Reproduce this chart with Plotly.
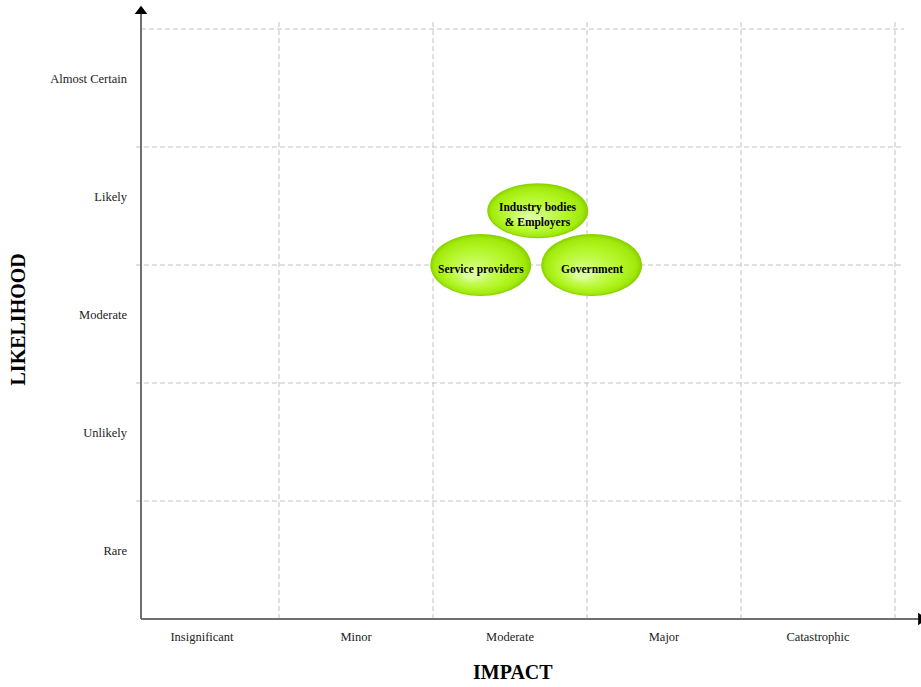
import plotly.graph_objects as go

# Risk matrix categories
impact_levels = ["Insignificant", "Minor", "Moderate", "Major", "Catastrophic"]
likelihood_levels = ["Rare", "Unlikely", "Moderate", "Likely", "Almost Certain"]

# Stakeholder positions on the matrix (impact, likelihood)
stakeholders = ["Industry bodies<br>& Employers", "Service providers", "Government"]
impact_score = [2.68, 2.31, 3.03]
likelihood_score = [3.46, 3.0, 3.0]

# ---- styling -------------------------------------------------------------
SERIF = "Liberation Serif, Times New Roman, serif"
X_RANGE = [0.0325, 5.1688]
Y_RANGE = [-0.0678, 5.2458]
AXIS_X = 0.104            # impact value where the likelihood axis is drawn
AXIS_TOP = 5.13           # top of the likelihood axis line
GRID_LEFT = 0.071
GRID_RIGHT = 5.058
GRID_TOP = 5.068
GRID_COLOR = "#c2c2c2"
AXIS_COLOR = "#6e6e6e"
BUBBLE_HALF_W = 0.328
BUBBLE_HALF_H = [0.233, 0.263, 0.263]

GRADIENT = [(0.0, "#8cd400"), (0.10, "#a2ea0c"), (0.40, "#b4f628"), (0.75, "#c6fb5a"),
            (1.0, "#dcffa0")]


def hex_to_rgb(h):
    h = h.lstrip("#")
    return tuple(int(h[i:i + 2], 16) for i in (0, 2, 4))


def gradient_color(t):
    for (t0, c0), (t1, c1) in zip(GRADIENT[:-1], GRADIENT[1:]):
        if t <= t1:
            f = (t - t0) / (t1 - t0) if t1 > t0 else 0
            a, b = hex_to_rgb(c0), hex_to_rgb(c1)
            return "rgb({},{},{})".format(*[round(a[i] + (b[i] - a[i]) * f) for i in range(3)])
    return GRADIENT[-1][1]


shapes = []

# dashed grid: horizontal lines between likelihood bands
for k in range(1, len(likelihood_levels) + 1):
    shapes.append(dict(type="line", layer="below", xref="x", yref="y",
                       x0=AXIS_X if k == len(likelihood_levels) else GRID_LEFT, x1=GRID_RIGHT,
                       y0=k, y1=k, line=dict(color=GRID_COLOR, width=1, dash="5px,3px")))
# dashed grid: vertical lines between impact bands
for k in range(1, len(impact_levels) + 1):
    shapes.append(dict(type="line", layer="below", xref="x", yref="y",
                       x0=k, x1=k, y0=0, y1=GRID_TOP,
                       line=dict(color=GRID_COLOR, width=1, dash="5px,3px")))

# axis lines
shapes.append(dict(type="line", layer="below", xref="x", yref="y",
                   x0=AXIS_X, x1=X_RANGE[1], y0=0, y1=0,
                   line=dict(color=AXIS_COLOR, width=2)))
shapes.append(dict(type="line", layer="below", xref="x", yref="y",
                   x0=AXIS_X, x1=AXIS_X, y0=0, y1=AXIS_TOP,
                   line=dict(color=AXIS_COLOR, width=2)))

# stakeholder bubbles, shaded with stacked ellipses
N_LAYERS = 26
for cx, cy, hh in zip(impact_score, likelihood_score, BUBBLE_HALF_H):
    hw = BUBBLE_HALF_W
    for i in range(N_LAYERS):
        t = i / (N_LAYERS - 1)
        s = 1 - 0.85 * t
        ox = cx - 0.18 * hw * t
        oy = cy - 0.30 * hh * t
        shapes.append(dict(type="circle", layer="below", xref="x", yref="y",
                           x0=ox - hw * s, x1=ox + hw * s,
                           y0=oy - hh * s, y1=oy + hh * s,
                           fillcolor=gradient_color(t), line=dict(width=0)))

fig = go.Figure()

# arrow heads at the ends of both axes
fig.add_trace(go.Scatter(
    x=[AXIS_X, 5.168], y=[5.15, 0], mode="markers",
    marker=dict(symbol=["triangle-up", "triangle-right"], size=11, color="#000000",
                line=dict(width=0)),
    cliponaxis=False, hoverinfo="skip",
))

annotations = [
    dict(text=name, x=ix, y=ly, xref="x", yref="y", showarrow=False,
         xanchor="center", yanchor="middle", yshift=-4,
         font=dict(family=SERIF, size=11.5, color="#000000", weight="bold"))
    for name, ix, ly in zip(stakeholders, impact_score, likelihood_score)
]
annotations += [
    dict(text="<b>IMPACT</b>", xref="paper", yref="paper", x=0.4842, y=-0.0718,
         xanchor="center", yanchor="middle", showarrow=False,
         font=dict(family=SERIF, size=20, color="#000000")),
    dict(text="<b>LIKELIHOOD</b>", xref="paper", yref="paper", x=-0.141, y=0.4912,
         xanchor="center", yanchor="middle", showarrow=False, textangle=-90,
         font=dict(family=SERIF, size=20, color="#000000")),
]

fig.update_layout(
    width=921, height=687,
    margin=dict(l=130, r=0, t=0, b=60, pad=0),
    plot_bgcolor="white", paper_bgcolor="white",
    showlegend=False,
    shapes=shapes,
    annotations=annotations,
    xaxis=dict(range=X_RANGE, tickvals=[i + 0.5 for i in range(len(impact_levels))],
               ticktext=impact_levels, ticks="", showgrid=False, zeroline=False,
               showline=False, tickfont=dict(family=SERIF, size=12.5, color="#222222"),
               fixedrange=True),
    yaxis=dict(range=Y_RANGE, tickvals=[i + 0.5 for i in range(len(likelihood_levels))],
               ticktext=likelihood_levels, ticks="", showgrid=False, zeroline=False,
               showline=False, tickfont=dict(family=SERIF, size=12.5, color="#222222"),
               ticklabelshift=-9, ticklabelstandoff=2, fixedrange=True),
)

fig.write_html("out.html")
